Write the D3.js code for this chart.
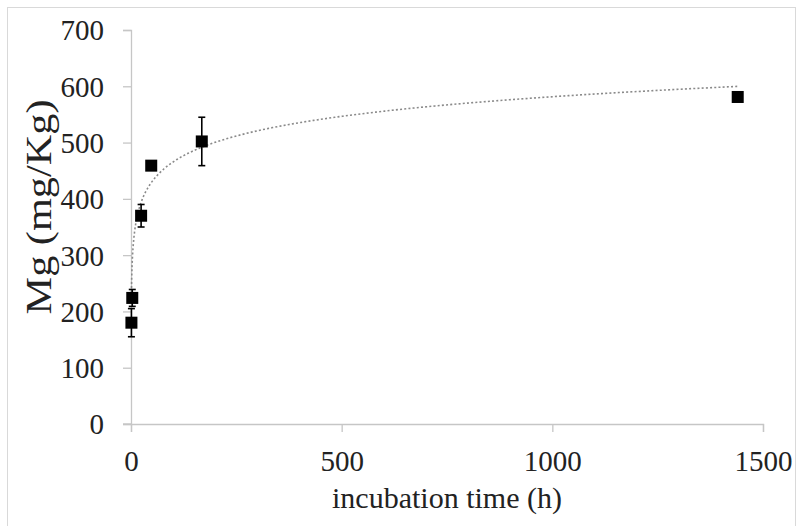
<!DOCTYPE html>
<html>
<head>
<meta charset="utf-8">
<script src="https://cdn.jsdelivr.net/npm/d3@7"></script>
<style>
  html, body { margin: 0; padding: 0; background: #fff; }
  svg { display: block; }
  text { font-family: "Liberation Serif", "Times New Roman", serif; fill: #222; }
</style>
</head>
<body>
<svg id="chart" width="800" height="526"></svg>
<script>
// ---- data ----
const times = [1, 3, 24, 48, 168, 1440];            // incubation time (h)
const mgValues = [180, 224, 370, 459, 502, 581];    // Mg (mg/Kg)
const mgErrors = [25, 15, 20, 0, 43, 0];            // error bar half-lengths
const xTicks = [0, 500, 1000, 1500];
const yTicks = [0, 100, 200, 300, 400, 500, 600, 700];
// logarithmic trendline y = a*ln(x) + b (coefficients)
const trendA = 50.3;
const trendB = 234;

const svg = d3.select("#chart");

// chart border
svg.append("rect").attr("x", 7.5).attr("y", 7.5).attr("width", 788).attr("height", 530)
  .attr("fill", "none").attr("stroke", "#d9d9d9").attr("stroke-width", 1);

const x = d3.scaleLinear().domain([0, 1500]).range([131, 763]);
const y = d3.scaleLinear().domain([0, 700]).range([424, 30]);

const axisColor = "#c6c6c6";

// y axis
const gy = svg.append("g").attr("transform", `translate(${x(0)},0)`)
  .call(d3.axisLeft(y).tickValues(yTicks).tickSize(8).tickPadding(19).tickFormat(d3.format("d")));
gy.selectAll("path").attr("stroke", axisColor).attr("stroke-width", 1.3);
gy.selectAll("line").attr("stroke", axisColor).attr("stroke-width", 1.3);
gy.selectAll("text").attr("font-size", 29).attr("font-family", "Liberation Serif").attr("fill", "#222").attr("dy", "0.34em");

// x axis
const gx = svg.append("g").attr("transform", `translate(0,${y(0)})`)
  .call(d3.axisBottom(x).tickValues(xTicks).tickSize(8).tickPadding(18).tickFormat(d3.format("d")));
gx.selectAll("path").attr("stroke", axisColor).attr("stroke-width", 1.3);
gx.selectAll("line").attr("stroke", axisColor).attr("stroke-width", 1.3);
gx.selectAll("text").attr("font-size", 29).attr("font-family", "Liberation Serif").attr("fill", "#222");
// extend horizontal axis line left to meet the y tick at 0
svg.append("line").attr("x1", x(0) - 8).attr("x2", x(0)).attr("y1", y(0)).attr("y2", y(0))
  .attr("stroke", axisColor).attr("stroke-width", 1.3);

// axis titles
svg.append("text").attr("x", (x(0) + x(1500)) / 2).attr("y", 508)
  .attr("text-anchor", "middle").attr("font-size", 30).text("incubation time (h)");
svg.append("text").attr("transform", "translate(51,207) rotate(-90)")
  .attr("text-anchor", "middle").attr("font-size", 36)
  .attr("textLength", 215).attr("lengthAdjust", "spacingAndGlyphs")
  .text("Mg (mg/Kg)");

// trendline (dotted)
const tMin = d3.min(times), tMax = d3.max(times);
const samples = d3.range(0, 201).map(i => Math.exp(Math.log(tMin) + (Math.log(tMax) - Math.log(tMin)) * i / 200));
svg.append("path")
  .datum(samples)
  .attr("d", d3.line().x(t => x(t)).y(t => y(trendA * Math.log(t) + trendB)))
  .attr("fill", "none").attr("stroke", "#8a8a8a").attr("stroke-width", 1.6)
  .attr("stroke-dasharray", "2,2.2");

const pts = times.map((t, i) => ({ t, v: mgValues[i], e: mgErrors[i] }));

// error bars
const eb = svg.append("g").attr("stroke", "#000").attr("stroke-width", 1.6);
pts.filter(d => d.e > 0).forEach(d => {
  eb.append("line").attr("x1", x(d.t)).attr("x2", x(d.t)).attr("y1", y(d.v - d.e)).attr("y2", y(d.v + d.e));
  [d.v - d.e, d.v + d.e].forEach(v => {
    eb.append("line").attr("x1", x(d.t) - 3.5).attr("x2", x(d.t) + 3.5).attr("y1", y(v)).attr("y2", y(v));
  });
});

// square markers
const ms = 12;
svg.append("g").selectAll("rect").data(pts).join("rect")
  .attr("x", d => x(d.t) - ms / 2).attr("y", d => y(d.v) - ms / 2)
  .attr("width", ms).attr("height", ms).attr("fill", "#000");
</script>
</body>
</html>
